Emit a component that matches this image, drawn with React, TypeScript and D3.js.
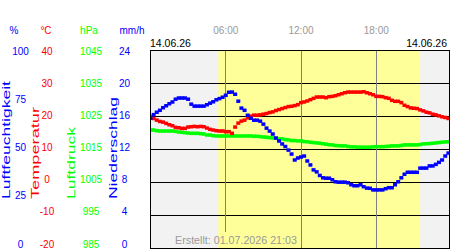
import * as d3 from "d3";
import React, { useEffect, useRef } from "react";

// 15-minute readings, 00:00 .. 24:00 (97 values each)
const humidity = [
  65.8, 67.6, 68.8, 69.8, 71.1, 72.1, 73.1, 74.0, 75.4, 76.0, 76.0, 76.0, 75.4, 72.9, 71.9, 71.9,
  71.9, 71.9, 72.6, 73.4, 74.1, 75.1, 75.7, 76.4, 77.4, 78.9, 79.0, 77.9, 74.4, 70.9, 69.8, 67.3,
  65.8, 64.8, 64.8, 64.3, 62.8, 60.8, 59.3, 57.8, 55.8, 54.3, 52.8, 51.5, 49.7, 47.7, 44.7, 45.7,
  46.2, 46.7, 44.2, 42.2, 39.7, 38.7, 36.9, 35.7, 35.5, 35.5, 34.7, 33.7, 33.5, 33.5, 33.5, 33.2,
  32.2, 31.7, 31.7, 32.2, 31.2, 30.5, 30.4, 29.6, 29.6, 29.6, 29.6, 30.2, 30.7, 30.7, 32.2, 33.7,
  35.7, 37.5, 38.5, 38.5, 38.5, 38.5, 40.6, 40.6, 40.6, 41.7, 41.7, 42.5, 43.5, 44.7, 46.7, 48.2,
  49.7,
];

const temperature = [
  19.9, 19.4, 18.9, 18.5, 18.3, 17.9, 17.5, 17.2, 16.7, 16.6, 16.4, 16.4, 16.8, 16.9, 17.0, 16.9,
  17.0, 16.9, 16.5, 16.1, 15.9, 15.7, 15.6, 15.6, 15.4, 15.4, 14.9, 16.8, 18.0, 18.6, 18.9, 19.6,
  20.1, 20.4, 20.4, 20.5, 20.7, 20.9, 21.2, 21.4, 21.8, 22.1, 22.4, 22.7, 23.0, 23.1, 23.3, 23.6,
  24.2, 24.4, 24.7, 25.1, 25.5, 25.9, 25.9, 25.9, 25.7, 26.0, 26.1, 26.3, 26.6, 26.9, 27.2, 27.4,
  27.4, 27.4, 27.4, 27.4, 27.5, 27.2, 26.9, 26.6, 26.1, 26.1, 26.0, 25.7, 25.5, 24.9, 24.6, 24.6,
  24.2, 23.4, 23.0, 22.6, 22.5, 22.4, 22.0, 21.7, 21.3, 21.1, 20.7, 20.5, 20.2, 19.9, 19.7, 19.4,
  18.8,
];

const pressure = [
  1020.9, 1020.9, 1020.7, 1020.6, 1020.6, 1020.6, 1020.6, 1020.6, 1020.5, 1020.3, 1020.2, 1020.1,
  1020.0, 1019.9, 1019.9, 1019.9, 1019.8, 1019.7, 1019.4, 1019.4, 1019.2, 1019.1, 1019.1, 1019.1,
  1019.1, 1019.1, 1019.1, 1019.1, 1019.1, 1019.1, 1019.1, 1019.1, 1019.1, 1019.0, 1019.0, 1018.9,
  1018.8, 1018.7, 1018.6, 1018.5, 1018.4, 1018.2, 1018.2, 1018.0, 1017.9, 1017.7, 1017.7, 1017.6,
  1017.6, 1017.4, 1017.35, 1017.2, 1017.1, 1017.0, 1016.9, 1016.75, 1016.6, 1016.45, 1016.4, 1016.2,
  1016.15, 1016.1, 1016.1, 1015.9, 1015.8, 1015.8, 1015.7, 1015.7, 1015.7, 1015.7, 1015.7, 1015.8,
  1015.85, 1015.85, 1015.85, 1015.9, 1016.0, 1016.1, 1016.1, 1016.1, 1016.2, 1016.4, 1016.4, 1016.4,
  1016.4, 1016.4, 1016.5, 1016.7, 1016.75, 1016.8, 1016.9, 1017.0, 1017.1, 1017.2, 1017.3, 1017.35,
  1017.4,
];

const humidityTicks = [0, 25, 50, 75, 100];
const tempTicks = [-20, -10, 0, 10, 20, 30, 40];
const pressureTicks = [985, 995, 1005, 1015, 1025, 1035, 1045];
const rainTicks = [0, 4, 8, 12, 16, 20, 24];
const hourTicks = [6, 12, 18];
const daylight = [5.4, 21.5];
const dateLabel = "14.06.26";
const createdLabel = "Erstellt: 01.07.2026 21:03";

const BLUE = "#0000ff";
const RED = "#ff0000";
const GREEN = "#00ff00";
const FONT = "'Liberation Sans', Arial, sans-serif";

const width = 450;
const height = 250;

const App = () => {
  const ref = useRef<SVGSVGElement>(null);

  useEffect(() => {
    const svg = d3.select(ref.current);
    svg.selectAll("*").remove();

    const left = 150.5;
    const right = 449.5;
    const top = 50.5;
    const bottom = 248.5;

    const x = d3.scaleLinear().domain([0, 24]).range([left, 451.5]);
    const yHum = d3.scaleLinear().domain([0, 100]).range([bottom, top]);
    const yTemp = d3.scaleLinear().domain([-20, 40]).range([bottom, top]);
    const yPres = d3.scaleLinear().domain([985, 1045]).range([bottom, top]);
    const yRain = d3.scaleLinear().domain([0, 24]).range([bottom, top]);
    const t = (i: number, n: number) => (i * 24) / (n - 1);

    svg
      .append("defs")
      .append("clipPath")
      .attr("id", "plot")
      .append("rect")
      .attr("x", left)
      .attr("y", top)
      .attr("width", right - left)
      .attr("height", bottom - top);

    // background: night grey, day yellow
    svg
      .append("rect")
      .attr("x", left)
      .attr("y", top)
      .attr("width", right - left)
      .attr("height", bottom - top)
      .attr("fill", "#f2f2f2");
    svg
      .append("rect")
      .attr("x", x(daylight[0]))
      .attr("y", top)
      .attr("width", x(daylight[1]) - x(daylight[0]))
      .attr("height", bottom - top)
      .attr("fill", "#ffff99");

    // created text (measured first so the 06:00 line can stop above it)
    const created = svg
      .append("text")
      .attr("x", 236)
      .attr("y", 244)
      .attr("text-anchor", "middle")
      .attr("font-family", FONT)
      .attr("font-size", 10.7)
      .attr("fill", "#999")
      .text(createdLabel);
    const cw = (created.node() as SVGTextElement).getComputedTextLength();

    // horizontal grid
    svg
      .append("g")
      .selectAll("line")
      .data(tempTicks)
      .join("line")
      .attr("x1", left)
      .attr("x2", right)
      .attr("y1", (d) => yTemp(d))
      .attr("y2", (d) => yTemp(d))
      .attr("stroke", "#000")
      .attr("shape-rendering", "crispEdges");

    // vertical hour lines
    svg
      .append("g")
      .selectAll("line")
      .data(hourTicks)
      .join("line")
      .attr("x1", (d) => x(d))
      .attr("x2", (d) => x(d))
      .attr("y1", top)
      .attr("y2", (d) => (Math.abs(x(d) - 236) < cw / 2 + 2 ? 232 : bottom))
      .attr("stroke", "#808080")
      .attr("shape-rendering", "crispEdges");

    created.raise();

    // data markers
    const plot = svg.append("g").attr("clip-path", "url(#plot)");
    const drawSeries = (vals: number[], y: d3.ScaleLinear<number, number>, color: string) => {
      plot
        .append("g")
        .selectAll("rect")
        .data(vals)
        .join("rect")
        .attr("x", (d, i) => x(t(i, vals.length)) - 2)
        .attr("y", (d) => y(d) - 1.75)
        .attr("width", 4)
        .attr("height", 3.5)
        .attr("fill", color);
    };
    drawSeries(pressure, yPres, GREEN);
    drawSeries(temperature, yTemp, RED);
    drawSeries(humidity, yHum, BLUE);

    // frame
    svg
      .append("rect")
      .attr("x", left)
      .attr("y", top)
      .attr("width", right - left)
      .attr("height", bottom - top)
      .attr("fill", "none")
      .attr("stroke", "#000")
      .attr("shape-rendering", "crispEdges");

    // tick label columns (labels are spread a bit tighter than the grid)
    const column = (
      ticks: number[],
      scale: d3.ScaleLinear<number, number>,
      cx: number,
      color: string
    ) => {
      const lab = scale.copy().range([244, 51]);
      svg
        .append("g")
        .selectAll("text")
        .data(ticks)
        .join("text")
        .attr("x", cx)
        .attr("y", (d) => lab(d) + 3.5)
        .attr("text-anchor", "middle")
        .attr("font-family", FONT)
        .attr("font-size", 10)
        .attr("fill", color)
        .text((d) => d);
    };
    column(humidityTicks, yHum, 20.5, BLUE);
    column(tempTicks, yTemp, 47, RED);
    column(pressureTicks, yPres, 91, GREEN);
    column(rainTicks, yRain, 124.5, BLUE);

    // unit headers
    const units = [
      { label: "%", x: 14, color: BLUE },
      { label: "°C", x: 46, color: RED },
      { label: "hPa", x: 89, color: GREEN },
      { label: "mm/h", x: 132, color: BLUE },
    ];
    svg
      .append("g")
      .selectAll("text")
      .data(units)
      .join("text")
      .attr("x", (d) => d.x)
      .attr("y", 34)
      .attr("text-anchor", "middle")
      .attr("font-family", FONT)
      .attr("font-size", 10)
      .attr("fill", (d) => d.color)
      .text((d) => d.label);

    // rotated axis titles
    const titles = [
      { label: "Luftfeuchtigkeit", x: 10, len: 118, color: BLUE },
      { label: "Temperatur", x: 38.5, len: 92, color: RED },
      { label: "Luftdruck", x: 75, len: 72, color: GREEN },
      { label: "Niederschlag", x: 117, len: 102, color: BLUE },
    ];
    svg
      .append("g")
      .selectAll("text")
      .data(titles)
      .join("text")
      .attr("transform", (d) => `translate(${d.x},199) rotate(-90)`)
      .attr("font-family", FONT)
      .attr("font-size", 11)
      .attr("textLength", (d) => d.len)
      .attr("lengthAdjust", "spacingAndGlyphs")
      .attr("fill", (d) => d.color)
      .text((d) => d.label);

    // hour labels
    svg
      .append("g")
      .selectAll("text")
      .data(hourTicks)
      .join("text")
      .attr("x", (d) => x(d))
      .attr("y", 34)
      .attr("text-anchor", "middle")
      .attr("font-family", FONT)
      .attr("font-size", 10)
      .attr("fill", "#999")
      .text((d) => d3.format("02")(d) + ":00");

    // dates
    svg
      .append("text")
      .attr("x", left - 0.5)
      .attr("y", 47)
      .attr("font-family", FONT)
      .attr("font-size", 10.5)
      .attr("fill", "#000")
      .text(dateLabel);
    svg
      .append("text")
      .attr("x", 447)
      .attr("y", 47)
      .attr("text-anchor", "end")
      .attr("font-family", FONT)
      .attr("font-size", 10.5)
      .attr("fill", "#000")
      .text(dateLabel);
  }, []);

  return (
    <svg
      ref={ref}
      width={width}
      height={height}
      style={{ position: "absolute", left: 0, top: 0, background: "#fff" }}
    />
  );
};

export default App;
